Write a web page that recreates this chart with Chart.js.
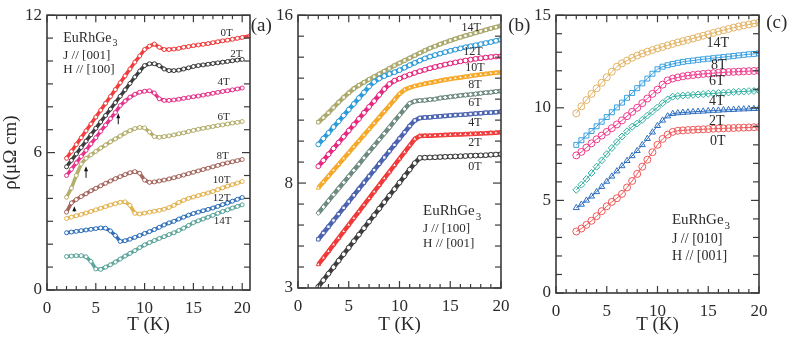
<!DOCTYPE html>
<html>
<head>
<meta charset="utf-8">
<script src="https://cdn.jsdelivr.net/npm/chart.js@4.4.1/dist/chart.umd.min.js"></script>
<style>
  html, body { margin: 0; padding: 0; background: #fff; }
  #wrap { position: relative; width: 789px; height: 340px; }
  #wrap canvas { position: absolute; left: 0; top: 0; }
</style>
</head>
<body>
<div id="wrap">
  <canvas id="chartA" width="789" height="340"></canvas>
  <canvas id="chartB" width="789" height="340"></canvas>
  <canvas id="chartC" width="789" height="340"></canvas>
</div>
<script>
// ---- tick labels ----
const xTicks = [0, 5, 10, 15, 20];
const yTicksA = [0, 6, 12];
const yTicksB = [3, 8, 16];
const yTicksC = [0, 5, 10, 15];

// ---- temperatures (K) ----
const tempsA = [2,2.5,3,3.5,4,4.5,5,5.5,6,6.5,7,7.5,8,8.5,9,9.5,10,10.5,11,11.5,12,12.5,13,13.5,14,14.5,15,15.5,16,16.5,17,17.5,18,18.5,19,19.5,20,20.8];
const tempsBC = [2,2.5,3,3.5,4,4.5,5,5.5,6,6.5,7,7.5,8,8.5,9,9.5,10,10.5,11,11.5,12,12.5,13,13.5,14,14.5,15,15.5,16,16.5,17,17.5,18,18.5,19,19.5,20];

// ---- (a) J // [001], H // [100] ----
const fieldsA = ['0T', '2T', '4T', '6T', '8T', '10T', '12T', '14T'];
const rhoA_0T  = [5.75,6.05,6.35,6.65,6.95,7.25,7.55,7.85,8.15,8.45,8.75,9.05,9.35,9.65,9.95,10.22,10.5,10.65,10.74,10.6,10.5,10.5,10.52,10.55,10.6,10.63,10.67,10.7,10.73,10.76,10.8,10.84,10.88,10.91,10.95,10.99,11.03,11.1];
const rhoA_2T  = [5.38,5.66,5.94,6.22,6.5,6.78,7.06,7.34,7.62,7.9,8.18,8.46,8.74,9.02,9.3,9.56,9.8,9.88,9.88,9.8,9.65,9.58,9.58,9.6,9.65,9.7,9.76,9.8,9.83,9.86,9.89,9.92,9.95,9.98,10.01,10.04,10.07];
const rhoA_4T  = [5.0,5.27,5.55,5.83,6.1,6.38,6.65,6.93,7.2,7.48,7.75,8.05,8.25,8.42,8.55,8.64,8.68,8.7,8.6,8.35,8.28,8.28,8.3,8.33,8.37,8.4,8.44,8.47,8.51,8.55,8.59,8.63,8.67,8.7,8.74,8.78,8.82];
const rhoA_6T  = [4.05,4.45,5.0,5.5,5.75,5.9,6.05,6.2,6.33,6.47,6.6,6.72,6.85,6.96,7.05,7.1,7.08,6.9,6.7,6.67,6.7,6.73,6.77,6.82,6.86,6.92,6.97,7.02,7.06,7.1,7.14,7.18,7.21,7.25,7.29,7.32,7.36];
const rhoA_8T  = [3.4,3.8,3.95,4.08,4.2,4.33,4.44,4.55,4.66,4.76,4.86,4.95,5.04,5.12,5.17,5.1,4.8,4.7,4.72,4.76,4.8,4.85,4.9,4.96,5.02,5.08,5.14,5.2,5.26,5.32,5.38,5.44,5.5,5.55,5.6,5.65,5.7];
const rhoA_10T = [3.12,3.18,3.24,3.3,3.36,3.43,3.5,3.57,3.64,3.71,3.77,3.83,3.85,3.7,3.35,3.32,3.36,3.4,3.44,3.48,3.53,3.6,3.7,3.82,3.92,4.0,4.06,4.12,4.18,4.24,4.3,4.38,4.46,4.54,4.6,4.67,4.74];
const rhoA_12T = [2.5,2.53,2.56,2.59,2.62,2.65,2.68,2.71,2.7,2.58,2.38,2.12,2.15,2.22,2.3,2.38,2.47,2.55,2.64,2.74,2.84,2.93,3.0,3.1,3.18,3.27,3.34,3.4,3.46,3.52,3.58,3.65,3.73,3.8,3.88,3.96,4.04];
const rhoA_14T = [1.46,1.48,1.5,1.5,1.45,1.25,0.92,0.9,1.0,1.1,1.22,1.35,1.48,1.6,1.72,1.85,1.97,2.07,2.16,2.25,2.33,2.42,2.5,2.6,2.7,2.82,2.94,3.02,3.1,3.18,3.26,3.35,3.43,3.5,3.58,3.65,3.72];

// ---- (b) J // [100], H // [001] ----
const fieldsB = ['0T', '2T', '4T', '6T', '8T', '10T', '12T', '14T'];
const rhoB_0T  = [3.06,3.37,3.68,3.99,4.3,4.61,4.92,5.23,5.54,5.85,6.16,6.47,6.78,7.09,7.4,7.71,8.02,8.33,8.64,8.95,9.2,9.21,9.22,9.23,9.24,9.25,9.26,9.27,9.28,9.29,9.3,9.31,9.32,9.33,9.35,9.36,9.38];
const rhoB_2T  = [4.12,4.44,4.75,5.07,5.38,5.7,6.01,6.33,6.64,6.96,7.27,7.59,7.9,8.22,8.53,8.85,9.16,9.48,9.79,10.1,10.24,10.25,10.26,10.27,10.28,10.29,10.3,10.31,10.32,10.33,10.34,10.35,10.36,10.37,10.39,10.4,10.42];
const rhoB_4T  = [5.32,5.62,5.92,6.22,6.52,6.82,7.12,7.42,7.72,8.02,8.32,8.62,8.92,9.22,9.52,9.82,10.12,10.42,10.72,10.98,11.1,11.12,11.14,11.16,11.18,11.2,11.22,11.24,11.25,11.27,11.29,11.31,11.33,11.35,11.36,11.38,11.4];
const rhoB_6T  = [6.57,6.86,7.15,7.45,7.74,8.03,8.32,8.61,8.9,9.2,9.49,9.78,10.07,10.36,10.65,10.95,11.24,11.53,11.8,11.9,11.93,11.95,11.98,12.0,12.05,12.08,12.11,12.14,12.17,12.2,12.22,12.25,12.28,12.31,12.33,12.36,12.39];
const rhoB_8T  = [7.77,8.05,8.33,8.61,8.89,9.17,9.45,9.73,10.01,10.29,10.57,10.85,11.13,11.41,11.69,11.97,12.25,12.45,12.55,12.62,12.68,12.73,12.78,12.83,12.88,12.92,12.96,13.0,13.03,13.07,13.1,13.14,13.17,13.2,13.23,13.26,13.28];
const rhoB_10T = [8.8,9.08,9.37,9.65,9.93,10.21,10.5,10.78,11.06,11.35,11.63,11.91,12.2,12.48,12.72,12.88,12.98,13.08,13.17,13.25,13.33,13.4,13.47,13.53,13.59,13.65,13.7,13.75,13.8,13.84,13.88,13.92,13.95,13.98,14.01,14.03,14.05];
const rhoB_12T = [9.84,10.12,10.39,10.67,10.94,11.22,11.5,11.77,12.05,12.32,12.6,12.82,12.98,13.1,13.2,13.28,13.38,13.5,13.62,13.73,13.84,13.94,14.03,14.1,14.17,14.24,14.3,14.36,14.42,14.47,14.52,14.57,14.62,14.67,14.72,14.78,14.83];
const rhoB_14T = [10.9,11.12,11.35,11.6,11.85,12.08,12.3,12.5,12.66,12.8,12.94,13.07,13.2,13.33,13.46,13.6,13.72,13.84,13.96,14.08,14.2,14.32,14.43,14.52,14.62,14.7,14.79,14.87,14.95,15.02,15.09,15.16,15.23,15.3,15.37,15.43,15.5];

// ---- (c) J // [010], H // [001] ----
const fieldsC = ['0T', '2T', '4T', '6T', '8T', '14T'];
const rhoC_0T  = [3.32,3.48,3.68,3.9,4.15,4.42,4.68,4.92,5.12,5.35,5.7,6.05,6.43,6.82,7.2,7.6,8.0,8.32,8.55,8.7,8.76,8.78,8.8,8.81,8.83,8.84,8.85,8.87,8.88,8.89,8.9,8.91,8.92,8.93,8.94,8.95,8.96];
const rhoC_2T  = [4.6,4.78,5.0,5.22,5.46,5.74,6.02,6.3,6.58,6.86,7.14,7.4,7.68,8.0,8.33,8.68,9.03,9.32,9.55,9.68,9.72,9.74,9.76,9.78,9.8,9.81,9.83,9.85,9.86,9.88,9.89,9.9,9.92,9.93,9.94,9.95,9.96];
const rhoC_4T  = [5.57,5.85,6.15,6.48,6.82,7.16,7.5,7.83,8.15,8.45,8.73,8.98,9.15,9.35,9.58,9.8,10.02,10.25,10.45,10.6,10.64,10.66,10.68,10.7,10.72,10.74,10.76,10.78,10.8,10.82,10.83,10.85,10.87,10.88,10.9,10.91,10.93];
const rhoC_6T  = [7.43,7.62,7.85,8.08,8.3,8.5,8.7,8.9,9.1,9.32,9.55,9.78,10.0,10.25,10.5,10.75,10.98,11.25,11.48,11.58,11.64,11.7,11.74,11.77,11.8,11.83,11.85,11.87,11.89,11.91,11.93,11.94,11.95,11.97,11.98,11.99,12.0];
const rhoC_8T  = [8.0,8.25,8.5,8.75,9.0,9.25,9.5,9.76,10.02,10.28,10.54,10.8,11.06,11.32,11.58,11.84,12.08,12.22,12.3,12.37,12.43,12.48,12.52,12.55,12.59,12.62,12.65,12.68,12.71,12.74,12.77,12.8,12.83,12.86,12.89,12.91,12.94];
const rhoC_14T = [9.7,10.08,10.42,10.75,11.05,11.35,11.65,11.95,12.22,12.4,12.55,12.7,12.82,12.93,13.03,13.12,13.21,13.29,13.37,13.45,13.53,13.6,13.67,13.74,13.82,13.89,13.97,14.04,14.12,14.19,14.26,14.33,14.39,14.45,14.5,14.55,14.6];

const serif = "'Liberation Serif', 'DejaVu Serif', serif";
const ink = '#2b2b2b';

function pts(temps, vals) {
    return vals.map((v, i) => ({ x: temps[i], y: v }));
}

function series(temps, vals, color, look) {
    return {
        data: pts(temps, vals),
        borderColor: color,
        borderWidth: look.line,
        pointStyle: look.style || 'circle',
        pointRadius: look.r,
        pointBorderWidth: 1,
        pointBorderColor: color,
        pointBackgroundColor: look.fill,
        tension: 0
    };
}

// cadre, graduations vers l'interieur, textes et fleches
const decoPlugin = {
    id: 'deco',
    afterDatasetsDraw(chart, args, opts) {
        const ctx = chart.ctx;
        const xs = chart.scales.x, ys = chart.scales.y;
        const a = chart.chartArea;
        const seg = (x1, y1, x2, y2) => { ctx.beginPath(); ctx.moveTo(x1, y1); ctx.lineTo(x2, y2); ctx.stroke(); };
        ctx.save();
        ctx.strokeStyle = '#3a3a3a';
        ctx.lineWidth = 1.2;
        for (let v = 0; v <= xs.max + 1e-6; v += 1) {
            const px = xs.getPixelForValue(v);
            const len = v % 5 === 0 ? 7 : 4;
            seg(px, a.bottom, px, a.bottom - len);
            seg(px, a.top, px, a.top + len);
        }
        for (let v = ys.min; v <= ys.max + 1e-6; v += 1) {
            const py = ys.getPixelForValue(v);
            const len = opts.yMajor.includes(v) ? 8 : 6;
            seg(a.left, py, a.left + len, py);
            seg(a.right, py, a.right - len, py);
        }
        ctx.lineWidth = 1.6;
        ctx.strokeRect(a.left, a.top, a.right - a.left, a.bottom - a.top);

        ctx.fillStyle = ink;
        ctx.textBaseline = 'middle';
        (opts.texts || []).forEach(t => {
            ctx.font = t.size + 'px ' + serif;
            ctx.textAlign = t.align || 'center';
            const px = xs.getPixelForValue(t.x), py = ys.getPixelForValue(t.y);
            ctx.fillText(t.text, px, py);
            if (t.sub) {
                const w = ctx.measureText(t.text).width;
                const dx = t.align === 'left' ? w : w / 2;
                ctx.font = Math.round(t.size * 0.7) + 'px ' + serif;
                ctx.textAlign = 'left';
                ctx.fillText(t.sub, px + dx + 1, py + t.size * 0.4);
            }
        });
        (opts.arrows || []).forEach(ar => {
            const px = xs.getPixelForValue(ar.x);
            const y1 = ys.getPixelForValue(ar.y1), y2 = ys.getPixelForValue(ar.y2);
            ctx.strokeStyle = '#111';
            ctx.fillStyle = '#111';
            ctx.lineWidth = 1;
            seg(px, y1, px, y2 + 3);
            ctx.beginPath();
            ctx.moveTo(px, y2);
            ctx.lineTo(px - 2, y2 + 5);
            ctx.lineTo(px + 2, y2 + 5);
            ctx.closePath();
            ctx.fill();
        });
        ctx.restore();
    }
};

function makeChart(id, datasets, cfg) {
    return new Chart(document.getElementById(id), {
        type: 'line',
        data: { datasets: datasets },
        plugins: [decoPlugin],
        options: {
            responsive: false,
            animation: false,
            events: [],
            layout: { padding: cfg.padding },
            plugins: {
                legend: { display: false },
                tooltip: { enabled: false },
                deco: { texts: cfg.texts, arrows: cfg.arrows, yMajor: cfg.yTicks }
            },
            scales: {
                x: {
                    type: 'linear',
                    min: 0,
                    max: cfg.xMax,
                    grid: { display: false, drawTicks: false },
                    border: { display: false },
                    ticks: { font: { family: serif, size: 17 }, color: ink, padding: 8, maxRotation: 0 },
                    afterBuildTicks: s => { s.ticks = xTicks.map(v => ({ value: v })); },
                    afterFit: s => { s.height = cfg.xHeight; },
                    title: { display: true, text: 'T (K)', font: { family: serif, size: 19 }, color: ink, padding: { top: 0, bottom: 4 } }
                },
                y: {
                    type: 'linear',
                    min: cfg.yMin,
                    max: cfg.yMax,
                    grid: { display: false, drawTicks: false },
                    border: { display: false },
                    ticks: { font: { family: serif, size: 17 }, color: ink, padding: 5 },
                    afterBuildTicks: s => { s.ticks = cfg.yTicks.map(v => ({ value: v })); },
                    afterFit: s => { s.width = cfg.yWidth; },
                    title: { display: !!cfg.yTitle, text: cfg.yTitle || '', font: { family: serif, size: 19 }, color: ink, padding: { top: 0, bottom: 0 } }
                }
            }
        }
    });
}

// ---- panneau (a) ----
const lookA = { line: 3.5, r: 2, fill: '#ffffff' };
const colorsA = ['#f03c3c', '#3c3c3c', '#e8318a', '#b3ae6c', '#a4665c', '#e3b24e', '#2f6fba', '#5ca59b'];
const valsA = [rhoA_0T, rhoA_2T, rhoA_4T, rhoA_6T, rhoA_8T, rhoA_10T, rhoA_12T, rhoA_14T];
makeChart('chartA', valsA.map((v, i) => series(tempsA, v, colorsA[i], lookA)), {
    padding: { left: 0, top: 10, right: 539, bottom: 0 },
    xMax: 20.8, xHeight: 50, yWidth: 47,
    yMin: 0, yMax: 12, yTicks: yTicksA, yTitle: 'ρ(μΩ cm)',
    texts: [
        { text: '0T', x: 18.4, y: 11.22, size: 11 },
        { text: '2T', x: 19.4, y: 10.29, size: 11 },
        { text: '4T', x: 18.1, y: 9.07, size: 11 },
        { text: '6T', x: 18.1, y: 7.57, size: 11 },
        { text: '8T', x: 18.0, y: 5.86, size: 11 },
        { text: '10T', x: 17.9, y: 4.79, size: 11 },
        { text: '12T', x: 17.9, y: 4.03, size: 11 },
        { text: '14T', x: 18.0, y: 3.0, size: 11 },
        { text: 'EuRhGe', sub: '3', x: 1.67, y: 11.0, size: 14, align: 'left' },
        { text: 'J // [001]', x: 1.67, y: 10.22, size: 13, align: 'left' },
        { text: 'H // [100]', x: 1.67, y: 9.64, size: 13, align: 'left' },
        { text: '(a)', x: 21.96, y: 11.53, size: 19 }
    ],
    arrows: [
        { x: 7.3, y1: 7.24, y2: 7.72 },
        { x: 4.0, y1: 4.9, y2: 5.4 },
        { x: 2.8, y1: 3.43, y2: 3.66 }
    ]
});

// ---- panneau (b) ----
const colorsB = ['#3c3c3c', '#f03a3a', '#4a62b0', '#6e8b80', '#f6a828', '#e6267f', '#2a9ad8', '#aaa86c'];
const stylesB = ['circle', 'triangle', 'rect', 'rectRot', 'triangle', 'circle', 'circle', 'rect'];
const valsB = [rhoB_0T, rhoB_2T, rhoB_4T, rhoB_6T, rhoB_8T, rhoB_10T, rhoB_12T, rhoB_14T];
makeChart('chartB', valsB.map((v, i) => series(tempsBC, v, colorsB[i], { line: 4.5, r: 2.4, fill: '#ffffff', style: stylesB[i] })), {
    padding: { left: 262, top: 10, right: 288, bottom: 0 },
    xMax: 20, xHeight: 52, yWidth: 36,
    yMin: 3, yMax: 16, yTicks: yTicksB,
    texts: [
        { text: '14T', x: 17.07, y: 15.38, size: 12 },
        { text: '12T', x: 17.24, y: 14.26, size: 12 },
        { text: '10T', x: 17.44, y: 13.51, size: 12 },
        { text: '8T', x: 17.44, y: 12.7, size: 12 },
        { text: '6T', x: 17.44, y: 11.83, size: 12 },
        { text: '4T', x: 17.44, y: 10.89, size: 12 },
        { text: '2T', x: 17.44, y: 9.92, size: 12 },
        { text: '0T', x: 17.44, y: 8.75, size: 12 },
        { text: 'EuRhGe', sub: '3', x: 12.32, y: 6.65, size: 15, align: 'left' },
        { text: 'J // [100]', x: 12.32, y: 5.83, size: 13, align: 'left' },
        { text: 'H // [001]', x: 12.32, y: 5.13, size: 13, align: 'left' },
        { text: '(b)', x: 21.8, y: 15.49, size: 19 }
    ]
});

// ---- panneau (c) ----
const colorsC = ['#f05858', '#2f6fc0', '#30b0a0', '#f03c8c', '#3aa0e0', '#e2b262'];
const stylesC = ['circle', 'triangle', 'rectRot', 'circle', 'rect', 'circle'];
const valsC = [rhoC_0T, rhoC_2T, rhoC_4T, rhoC_6T, rhoC_8T, rhoC_14T];
makeChart('chartC', valsC.map((v, i) => series(tempsBC, v, colorsC[i], { line: 1, r: 3.5, fill: 'rgba(255,255,255,0)', style: stylesC[i] })), {
    padding: { left: 520, top: 13, right: 30, bottom: 0 },
    xMax: 20, xHeight: 47, yWidth: 36,
    yMin: 0, yMax: 15, yTicks: yTicksC,
    texts: [
        { text: '14T', x: 15.94, y: 13.48, size: 14 },
        { text: '8T', x: 16.04, y: 12.32, size: 14 },
        { text: '6T', x: 15.85, y: 11.42, size: 14 },
        { text: '4T', x: 15.85, y: 10.35, size: 14 },
        { text: '2T', x: 15.85, y: 9.28, size: 14 },
        { text: '0T', x: 15.94, y: 8.17, size: 14 },
        { text: 'EuRhGe', sub: '3', x: 11.42, y: 3.93, size: 15, align: 'left' },
        { text: 'J // [010]', x: 11.42, y: 2.88, size: 14, align: 'left' },
        { text: 'H // [001]', x: 11.42, y: 1.97, size: 14, align: 'left' },
        { text: '(c)', x: 21.75, y: 14.58, size: 19 }
    ]
});
</script>
</body>
</html>
